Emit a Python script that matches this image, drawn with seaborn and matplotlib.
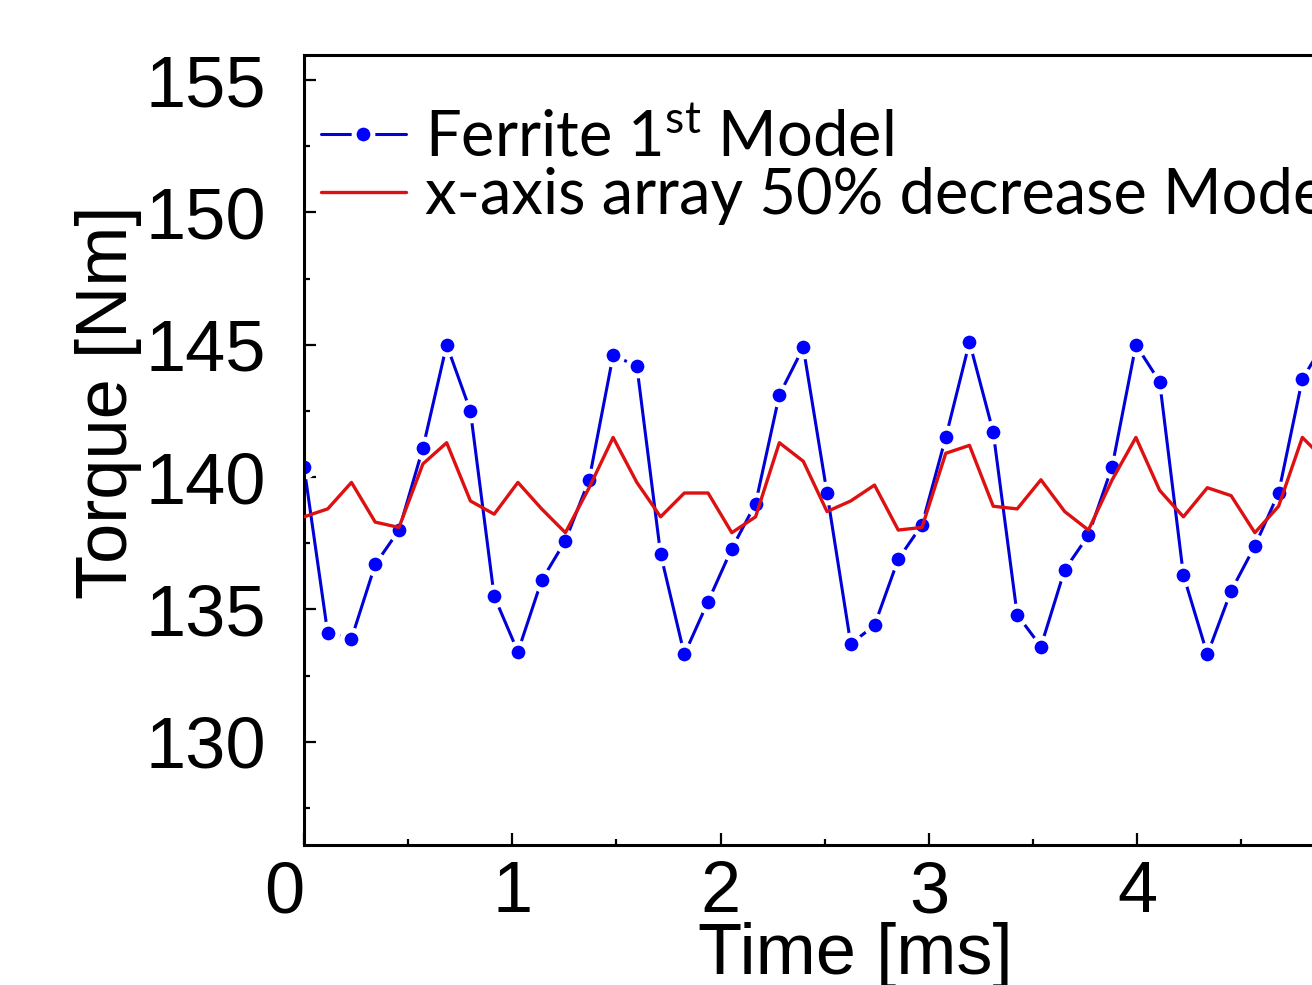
import numpy as np
import matplotlib
matplotlib.use("Agg")
import matplotlib.pyplot as plt
from matplotlib.ticker import MultipleLocator
import seaborn as sns

# time samples [ms]
time_ms = [0.000, 0.114, 0.228, 0.342, 0.456, 0.571, 0.685, 0.799, 0.913, 1.027,
           1.141, 1.255, 1.369, 1.484, 1.598, 1.712, 1.826, 1.940, 2.054, 2.168,
           2.282, 2.397, 2.511, 2.625, 2.739, 2.853, 2.967, 3.081, 3.195, 3.309,
           3.424, 3.538, 3.652, 3.766, 3.880, 3.994, 4.108, 4.222, 4.337, 4.451,
           4.565, 4.679, 4.793, 4.907]

# torque [Nm]
ferrite_1st = [140.4, 134.1, 133.9, 136.7, 138.0, 141.1, 145.0, 142.5, 135.5, 133.4,
               136.1, 137.6, 139.9, 144.6, 144.2, 137.1, 133.3, 135.3, 137.3, 139.0,
               143.1, 144.9, 139.4, 133.7, 134.4, 136.9, 138.2, 141.5, 145.1, 141.7,
               134.8, 133.6, 136.5, 137.8, 140.4, 145.0, 143.6, 136.3, 133.3, 135.7,
               137.4, 139.4, 143.7, 145.2]

xaxis_half = [138.5, 138.8, 139.8, 138.3, 138.1, 140.5, 141.3, 139.1, 138.6, 139.8,
              138.8, 137.9, 139.6, 141.5, 139.8, 138.5, 139.4, 139.4, 137.9, 138.5,
              141.3, 140.6, 138.7, 139.1, 139.7, 138.0, 138.1, 140.9, 141.2, 138.9,
              138.8, 139.9, 138.7, 138.0, 139.9, 141.5, 139.5, 138.5, 139.6, 139.3,
              137.9, 138.9, 141.5, 140.6]

labels = [r"Ferrite $\mathrm{1^{st}}$ Model", "x-axis array 50% decrease Model"]

sns.set_style("ticks")
plt.rcParams["font.family"] = ["Liberation Sans", "DejaVu Sans"]
plt.rcParams["mathtext.fontset"] = "custom"
plt.rcParams["mathtext.rm"] = "Lato"
plt.rcParams["axes.linewidth"] = 2.2
plt.rcParams["axes.edgecolor"] = "black"
plt.rcParams["text.color"] = "black"
plt.rcParams["axes.labelcolor"] = "black"

fig = plt.figure(figsize=(13.12, 9.85), dpi=100)
ax = fig.add_axes([0.2317, 0.1421, 0.7938, 0.8021])

sns.lineplot(x=time_ms, y=ferrite_1st, ax=ax, sort=False, estimator=None,
             color="#0000d8", lw=2.2, marker="o", markersize=13.5,
             markerfacecolor="#0000ff", markeredgecolor="white",
             markeredgewidth=3.6, label=labels[0], zorder=2)
sns.lineplot(x=time_ms, y=xaxis_half, ax=ax, sort=False, estimator=None,
             color="#dd1111", lw=2.4, label=labels[1], zorder=3)

ax.set_xlim(0, 5)
ax.set_ylim(126.1, 155.95)
ax.set_xticks([0, 1, 2, 3, 4, 5])
ax.set_xticklabels(["0", "1", "2", "3", "4", ""])
ax.xaxis.set_minor_locator(MultipleLocator(0.5))
ax.set_yticks([130, 135, 140, 145, 150, 155])
ax.yaxis.set_minor_locator(MultipleLocator(2.5))
ax.get_xticklabels()[0].set_ha("right")

ax.tick_params(which="both", direction="in", width=1.6, top=False, right=False,
               labelsize=52, colors="black")
ax.tick_params(which="major", length=8.5)
ax.tick_params(which="minor", length=4.5)
ax.tick_params(axis="x", pad=11)
ax.tick_params(axis="y", pad=27)

ax.set_xlabel("Time [ms]", fontsize=52)
ax.set_ylabel("Torque [Nm]", fontsize=52)
ax.xaxis.set_label_coords(0.529, -0.097)
ax.yaxis.set_label_coords(-0.156, 0.56)

leg = ax.legend(loc="upper left", bbox_to_anchor=(0.2447, 0.889),
                bbox_transform=fig.transFigure, frameon=False,
                prop={"family": "Lato", "size": 45.5}, handlelength=1.34,
                handletextpad=0.31, labelspacing=0.0, borderpad=0,
                borderaxespad=0)

fig.savefig("out.png", dpi=100)
